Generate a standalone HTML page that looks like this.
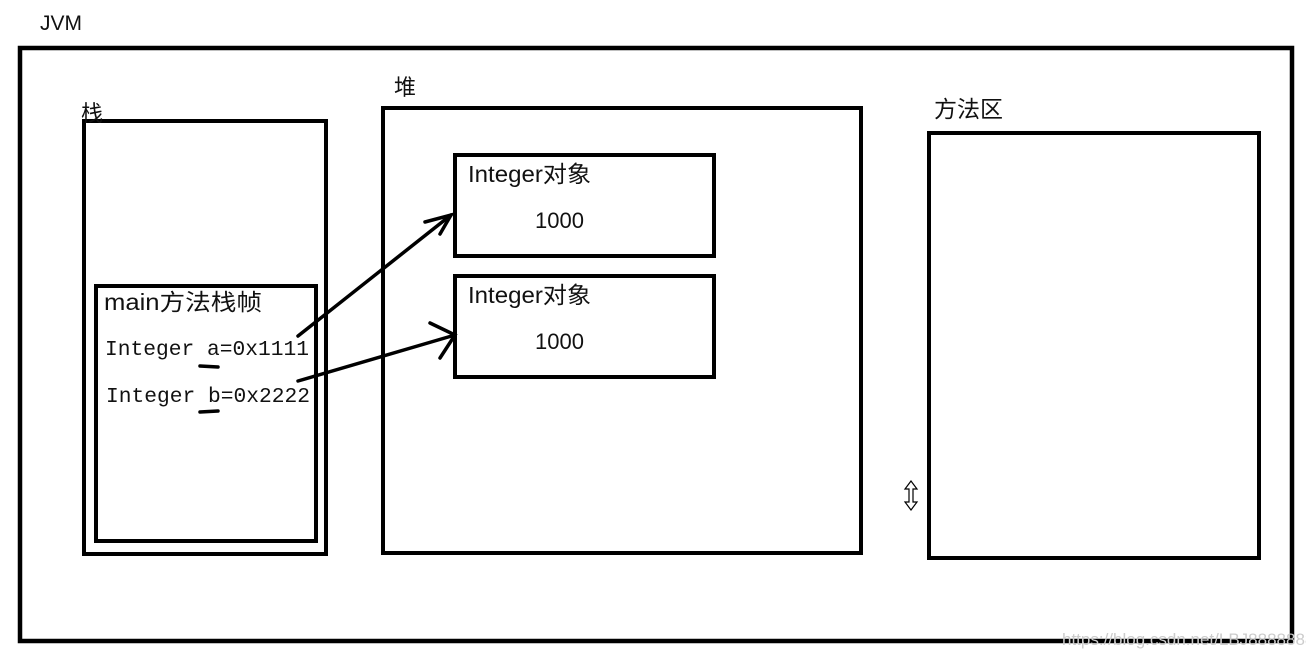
<!DOCTYPE html>
<html><head><meta charset="utf-8"><style>
html,body{margin:0;padding:0;background:#fff;}
svg{display:block;}
text{font-family:"Liberation Sans","Noto Sans CJK SC",sans-serif;fill:#111;}
.m{font-family:"Liberation Mono","Noto Sans CJK SC",monospace;}
</style></head><body>
<svg width="1306" height="661" viewBox="0 0 1306 661" xmlns="http://www.w3.org/2000/svg">
<g fill="none" stroke="#000">
<rect x="20" y="48" width="1272" height="593" stroke-width="4.5"/>
<rect x="84" y="121" width="242" height="433" stroke-width="4"/>
<rect x="96" y="286" width="220" height="255" stroke-width="4"/>
<rect x="383" y="108" width="478" height="445" stroke-width="4"/>
<rect x="455" y="155" width="259" height="101" stroke-width="4"/>
<rect x="455" y="276" width="259" height="101" stroke-width="4"/>
<rect x="929" y="133" width="330" height="425" stroke-width="4"/>
<g stroke-width="3.5" stroke-linecap="round">
<line x1="298" y1="336" x2="451" y2="215"/>
<polyline points="425,222 451,215 440,234"/>
<line x1="298" y1="381" x2="455" y2="335"/>
<polyline points="430,323 455,335 440,358"/>
<line x1="200" y1="366" x2="218" y2="367" stroke-width="3.5"/>
<line x1="200" y1="412" x2="218" y2="411" stroke-width="3.5"/>
</g>
<g stroke-width="1.2">
<path d="M911 481 L905 489 L909 489 L909 502 L905 502 L911 510 L917 502 L913 502 L913 489 L917 489 Z"/>
</g>
</g>
<text x="40" y="30" font-size="21">JVM</text>
<text x="81" y="121" font-size="22">栈</text>
<text x="394" y="95" font-size="22">堆</text>
<text x="934" y="117" font-size="23">方法区</text>
<text x="104" y="310" font-size="23" textLength="158" lengthAdjust="spacingAndGlyphs">main方法栈帧</text>
<text class="m" x="105" y="355" font-size="21" textLength="204" lengthAdjust="spacingAndGlyphs">Integer a=0x1111</text>
<text class="m" x="106" y="402" font-size="21" textLength="204" lengthAdjust="spacingAndGlyphs">Integer b=0x2222</text>
<text x="468" y="182" font-size="23" textLength="123" lengthAdjust="spacingAndGlyphs">Integer对象</text>
<text x="535" y="228" font-size="22">1000</text>
<text x="468" y="303" font-size="23" textLength="123" lengthAdjust="spacingAndGlyphs">Integer对象</text>
<text x="535" y="349" font-size="22">1000</text>
<text x="1062" y="645" font-size="17" style="fill:#ccc">https://blog.csdn.net/LBJ8888888</text>
</svg>
</body></html>
